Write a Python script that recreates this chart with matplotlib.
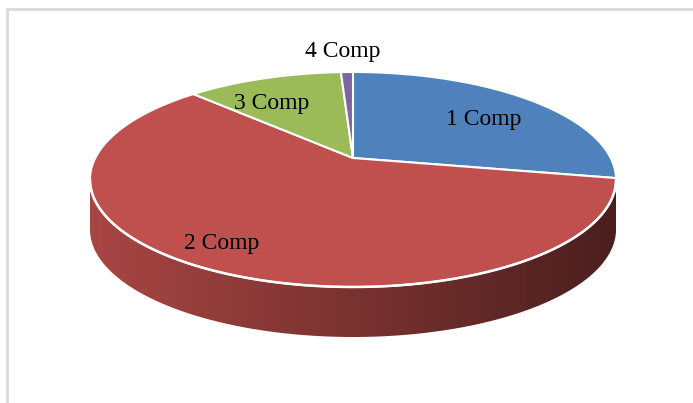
import numpy as np
import matplotlib
matplotlib.use('Agg')
import matplotlib.pyplot as plt
from matplotlib.patches import Polygon
from matplotlib.colors import to_rgb

# ---- data ----
labels = ['1 Comp', '2 Comp', '3 Comp', '4 Comp']
values = [28.0, 59.5, 11.6, 0.9]
colors = ['#4F81BD', '#C0504D', '#9BBB59', '#8064A2']
label_pos = [(484, 119), (222, 243), (272, 103), (343, 52)]

# ---- 3d pie geometry (pixel coords) ----
cx, cy = 353, 158       # apex of the slices
A, B, k = 257.7, 103.2, 0.2   # perspective ellipse
depth = 50

def proj(theta):
    t = np.radians(theta)
    u, v = np.sin(t), np.cos(t)
    s = 1 + k * v
    return cx + A * u / s, cy - B * v / s

fig = plt.figure(figsize=(6.93, 4.03), dpi=100)
ax = fig.add_axes([0, 0, 1, 1])
ax.set_xlim(0, 693); ax.set_ylim(403, 0)
ax.axis('off')

# frame
ax.plot([7, 7, 693], [403, 9, 9], color='#d9d9d9', lw=2, solid_capstyle='butt')

# angles (clockwise from 12 o'clock)
bounds = np.concatenate([[0], np.cumsum(values) / sum(values) * 360])

# side (front half only), shaded left->right
th_r = np.degrees(np.arccos(-k))
th_l = 360 - th_r
xl, xr = proj(th_l)[0], proj(th_r)[0]
gx = np.linspace(xl, xr, 400)
fac = 0.875 + (0.385 - 0.875) * (gx - xl) / (xr - xl)

for i, c in enumerate(colors):
    a0, a1 = max(bounds[i], th_r), min(bounds[i + 1], th_l)
    if a1 <= a0:
        continue
    ts = np.linspace(a0, a1, 200)
    top = [proj(t) for t in ts]
    bot = [(x, y + depth) for x, y in top[::-1]]
    poly = Polygon(top + bot, closed=True, fc='none', ec='none')
    ax.add_patch(poly)
    img = np.array(to_rgb(c))[None, None, :] * fac[None, :, None]
    im = ax.imshow(np.clip(img, 0, 1), extent=[xl, xr, 400, 0], aspect='auto',
                   interpolation='bilinear', zorder=2)
    im.set_clip_path(poly)

# top faces
for i, c in enumerate(colors):
    ts = np.linspace(bounds[i], bounds[i + 1], max(int((bounds[i + 1] - bounds[i]) * 2), 2) + 1)
    pts = [(cx, cy)] + [proj(t) for t in ts]
    ax.add_patch(Polygon(pts, closed=True, fc=c, ec='white', lw=1.5, joinstyle='round', zorder=3))

# white rim along front edge
ts = np.linspace(th_r, th_l, 300)
xs, ys = zip(*[proj(t) for t in ts])
ax.plot(xs, ys, color='white', lw=1.8, zorder=4)

ax.set_xlim(0, 693); ax.set_ylim(403, 0)

for lab, (x, y) in zip(labels, label_pos):
    ax.text(x, y, lab, ha='center', va='center', fontsize=17,
            family='Liberation Serif', color='black', zorder=5)

fig.savefig('out.png', dpi=100)
